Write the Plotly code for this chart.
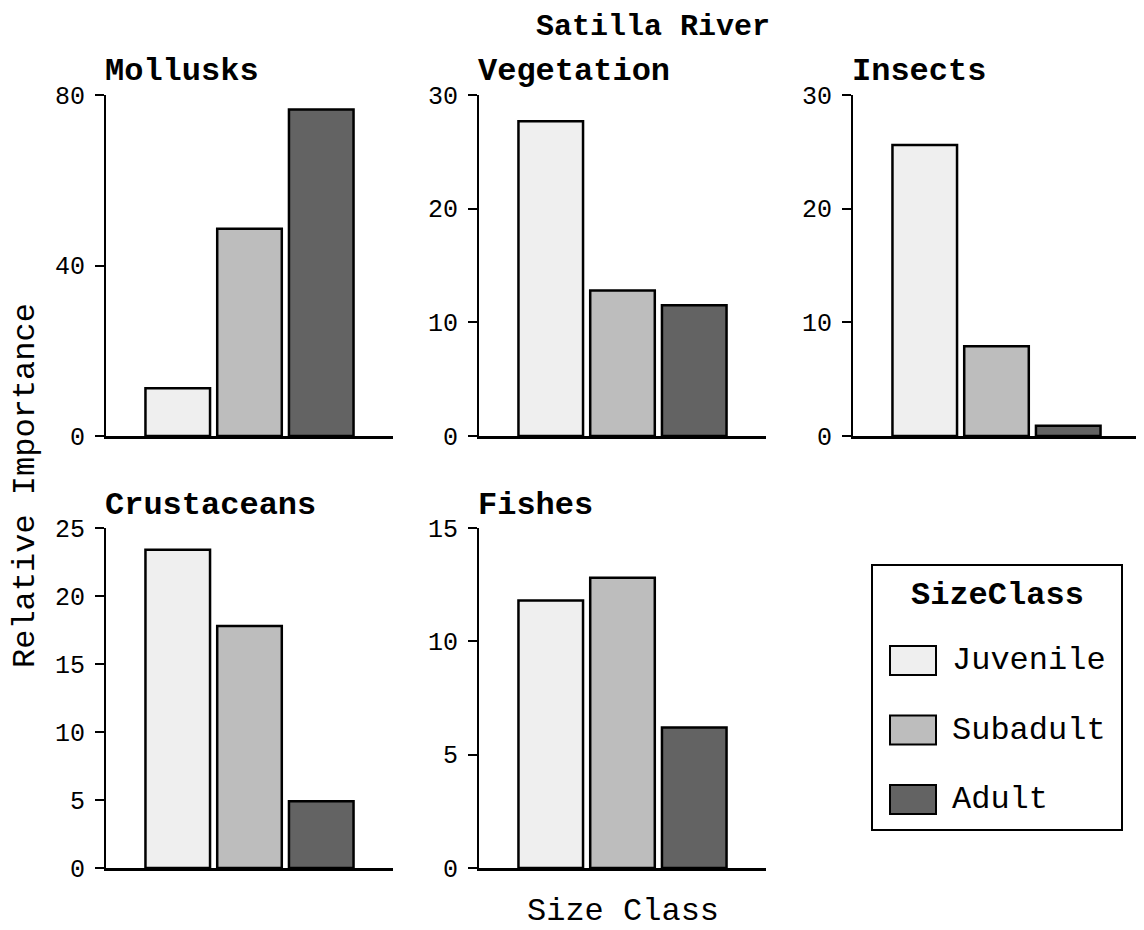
import plotly.graph_objects as go

# ---------------- data ----------------
size_classes = ["Juvenile", "Subadult", "Adult"]
class_colors = ["#efefef", "#bdbdbd", "#636363"]
prey_groups = ["Mollusks", "Vegetation", "Insects", "Crustaceans", "Fishes"]
mollusks = [11.2, 48.6, 76.6]
vegetation = [27.7, 12.8, 11.5]
insects = [25.6, 7.9, 0.9]
crustaceans = [23.4, 17.8, 4.9]
fishes = [11.8, 12.8, 6.2]
y_max = [80, 30, 30, 25, 15]
y_ticks = [[0, 40, 80], [0, 10, 20, 30], [0, 10, 20, 30],
           [0, 5, 10, 15, 20, 25], [0, 5, 10, 15]]
values = [mollusks, vegetation, insects, crustaceans, fishes]

# ---------------- layout helpers ----------------
OFF = 8                      # page body margin
W, H = 1144 - OFF, 930 - OFF
FONT = "Liberation Mono, Courier New, monospace"


def px(x):
    return (x - OFF) / W


def py(y):
    return 1 - (y - OFF) / H


panel_x = [(106, 393), (479, 766), (853, 1140), (106, 393), (479, 766)]
panel_y = [(95, 436), (95, 436), (95, 436), (528, 868), (528, 868)]

fig = go.Figure()
layout = dict(
    template="none",
    width=W, height=H, autosize=False,
    margin=dict(l=0, r=0, t=0, b=0, pad=0, autoexpand=False),
    paper_bgcolor="white", plot_bgcolor="white",
    showlegend=False,
    barmode="overlay",
    font=dict(family=FONT, color="black"),
)
annotations = []
shapes = []

for i, (name, vals) in enumerate(zip(prey_groups, values)):
    n = "" if i == 0 else str(i + 1)
    for j, (cls, col) in enumerate(zip(size_classes, class_colors)):
        fig.add_trace(go.Bar(
            x=[j], y=[vals[j]], width=0.9, name=cls,
            marker=dict(color=col, line=dict(color="black", width=2.5)),
            xaxis="x" + n, yaxis="y" + n, showlegend=False,
            hovertemplate=f"{name}<br>{cls}: %{{y}}<extra></extra>",
        ))
    x0, x1 = panel_x[i]
    y0, y1 = panel_y[i]
    layout["xaxis" + n] = dict(
        domain=[px(x0), px(x1)], range=[-1, 3], anchor="y" + n,
        showline=True, linecolor="black", linewidth=2.5, automargin=False,
        showticklabels=False, ticks="", showgrid=False, zeroline=False,
    )
    layout["yaxis" + n] = dict(
        domain=[py(y1), py(y0)], range=[0, y_max[i]], anchor="x" + n,
        tickvals=y_ticks[i], ticks="outside", ticklen=9, tickwidth=1.5,
        tickcolor="black", showline=True, linecolor="black", linewidth=2,
        showgrid=False, zeroline=False, ticklabelstandoff=5, automargin=False,
        tickfont=dict(family=FONT, size=25, color="black"),
    )
    annotations.append(dict(
        text=f"<b>{name}</b>", x=px(x0 - 3), y=py(y0 - 23),
        xref="paper", yref="paper", xanchor="left", yanchor="middle",
        showarrow=False, font=dict(family=FONT, size=32, color="black"),
    ))

# main title and axis titles
annotations.append(dict(
    text="<b>Satilla River</b>", x=px(653), y=py(27), xref="paper", yref="paper",
    xanchor="center", yanchor="middle", showarrow=False,
    font=dict(family=FONT, size=30, color="black"),
))
annotations.append(dict(
    text="Relative Importance", x=px(25), y=py(486), xref="paper", yref="paper",
    xanchor="center", yanchor="middle", showarrow=False, textangle=-90,
    font=dict(family=FONT, size=32, color="black"),
))
annotations.append(dict(
    text="Size Class", x=px(623), y=py(911), xref="paper", yref="paper",
    xanchor="center", yanchor="middle", showarrow=False,
    font=dict(family=FONT, size=32, color="black"),
))

# legend (drawn box)
shapes.append(dict(type="rect", xref="paper", yref="paper",
                   x0=px(872), x1=px(1122), y0=py(830), y1=py(565),
                   line=dict(color="black", width=2), fillcolor="white"))
annotations.append(dict(
    text="<b>SizeClass</b>", x=px(997), y=py(595), xref="paper", yref="paper",
    xanchor="center", yanchor="middle", showarrow=False,
    font=dict(family=FONT, size=32, color="black"),
))
for k, (cls, col) in enumerate(zip(size_classes, class_colors)):
    cy = 660.5 + 69.5 * k
    shapes.append(dict(type="rect", xref="paper", yref="paper",
                       x0=px(890), x1=px(936), y0=py(cy + 14.5), y1=py(cy - 14.5),
                       line=dict(color="black", width=2), fillcolor=col))
    annotations.append(dict(
        text=cls, x=px(950), y=py(cy), xref="paper", yref="paper",
        xanchor="left", yanchor="middle", showarrow=False,
        font=dict(family=FONT, size=32, color="black"),
    ))

layout["annotations"] = annotations
layout["shapes"] = shapes
fig.update_layout(**layout)
fig.write_html("out.html")
